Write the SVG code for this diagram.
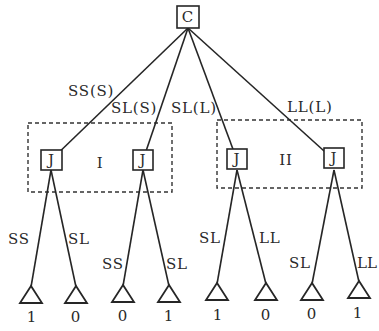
<svg xmlns="http://www.w3.org/2000/svg" width="379" height="331" viewBox="0 0 379 331">
  <style>
    .edge { stroke: #262626; stroke-width: 1.6; fill: none; }
    .box { fill: #fff; stroke: #262626; stroke-width: 1.6; }
    .info { fill: none; stroke: #333; stroke-width: 1.4; stroke-dasharray: 4 3; }
    .leaf { fill: #fff; stroke: #262626; stroke-width: 1.8; stroke-linejoin: miter; }
    text { font-family: "DejaVu Serif", "Liberation Serif", serif; font-size: 15px; fill: #2a2a2a; letter-spacing: 0.8px; }
    .mid { text-anchor: middle; }
  </style>
  <rect width="379" height="331" fill="#fff"/>

  <!-- information sets -->
  <g id="infoset-I">
    <rect class="info" x="28" y="123" width="144" height="69"/>
    <text class="mid" x="100" y="168">I</text>
  </g>
  <g id="infoset-II">
    <rect class="info" x="217" y="120" width="145" height="68"/>
    <text class="mid" x="286" y="165">II</text>
  </g>

  <!-- connectors -->
  <g id="connectors">
    <line class="edge" x1="188" y1="28" x2="51" y2="160"/>
    <line class="edge" x1="188" y1="28" x2="143" y2="160"/>
    <line class="edge" x1="188" y1="28" x2="237" y2="160"/>
    <line class="edge" x1="188" y1="28" x2="334" y2="160"/>
    <line class="edge" x1="51" y1="170" x2="31" y2="287"/>
    <line class="edge" x1="51" y1="170" x2="76" y2="287"/>
    <line class="edge" x1="143" y1="170" x2="123" y2="286"/>
    <line class="edge" x1="143" y1="170" x2="169" y2="286"/>
    <line class="edge" x1="237" y1="170" x2="217" y2="284"/>
    <line class="edge" x1="237" y1="170" x2="266" y2="284"/>
    <line class="edge" x1="334" y1="170" x2="312" y2="284"/>
    <line class="edge" x1="334" y1="170" x2="359" y2="282"/>
    <text x="68" y="96">SS(S)</text>
    <text x="111" y="113">SL(S)</text>
    <text x="171" y="113">SL(L)</text>
    <text x="287" y="112">LL(L)</text>
    <text x="8" y="244">SS</text>
    <text x="68" y="244">SL</text>
    <text x="102" y="269">SS</text>
    <text x="166" y="269">SL</text>
    <text x="199" y="243">SL</text>
    <text x="259" y="243">LL</text>
    <text x="289" y="268">SL</text>
    <text x="357" y="268" style="letter-spacing:0">LL</text>
  </g>

  <!-- decision nodes -->
  <g id="node-C">
    <rect class="box" x="177" y="6" width="22" height="22"/>
    <text class="mid" x="188" y="22">C</text>
  </g>
  <g id="node-J1">
    <rect class="box" x="41" y="150" width="21" height="20"/>
    <text class="mid" x="51.5" y="165">J</text>
  </g>
  <g id="node-J2">
    <rect class="box" x="133" y="150" width="20" height="20"/>
    <text class="mid" x="143" y="165">J</text>
  </g>
  <g id="node-J3">
    <rect class="box" x="227" y="149" width="20" height="20"/>
    <text class="mid" x="237" y="164">J</text>
  </g>
  <g id="node-J4">
    <rect class="box" x="324" y="148" width="20" height="20"/>
    <text class="mid" x="334" y="163">J</text>
  </g>

  <!-- terminal nodes -->
  <g id="leaf-1"><polygon class="leaf" points="31,286 20,303 42,303"/><text class="mid" x="32" y="322">1</text></g>
  <g id="leaf-2"><polygon class="leaf" points="76,286 65,303 87,303"/><text class="mid" x="76" y="322">0</text></g>
  <g id="leaf-3"><polygon class="leaf" points="123,285 112,302 134,302"/><text class="mid" x="123" y="321">0</text></g>
  <g id="leaf-4"><polygon class="leaf" points="169,285 158,302 180,302"/><text class="mid" x="169" y="321">1</text></g>
  <g id="leaf-5"><polygon class="leaf" points="217,283 206,300 228,300"/><text class="mid" x="218" y="320">1</text></g>
  <g id="leaf-6"><polygon class="leaf" points="266,283 255,300 277,300"/><text class="mid" x="266" y="320">0</text></g>
  <g id="leaf-7"><polygon class="leaf" points="312,283 301,300 323,300"/><text class="mid" x="312" y="319">0</text></g>
  <g id="leaf-8"><polygon class="leaf" points="359,281 348,298 370,298"/><text class="mid" x="358" y="318">1</text></g>
</svg>
